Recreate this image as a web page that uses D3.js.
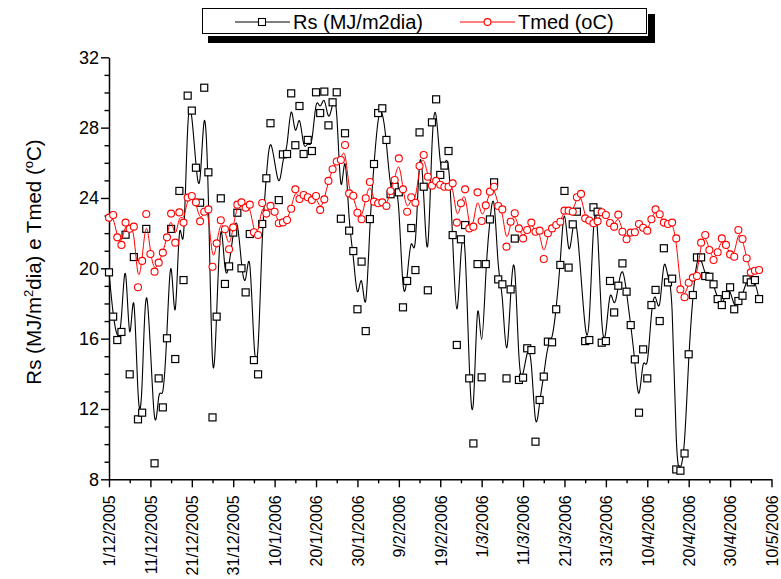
<!DOCTYPE html>
<html><head><meta charset="utf-8">
<script src="https://cdn.jsdelivr.net/npm/d3@7"></script>
<style>
body{margin:0;background:#fff}
text{font-family:"Liberation Sans",Arial,sans-serif}
</style>
</head><body>
<svg id="c" width="781" height="579"></svg>
<script>
// ---- data ----
const startDate = "2005-12-01";
const endDate = "2006-05-10";
const tickDates = ["2005-12-01","2005-12-11","2005-12-21","2005-12-31","2006-01-10","2006-01-20","2006-01-30","2006-02-09","2006-02-19","2006-03-01","2006-03-11","2006-03-21","2006-03-31","2006-04-10","2006-04-20","2006-04-30","2006-05-10"];
const yTicks = [8,12,16,20,24,28,32];
const seriesNames = ["Rs (MJ/m2dia)", "Tmed (oC)"];
// daily values from 1/12/2005 (null = no observation)
const rs = [19.77,17.25,15.92,16.38,21.91,13.97,20.64,11.41,11.79,22.24,
 null,8.91,13.74,12.09,16.02,22.24,14.84,24.40,19.33,29.82,
 28.97,25.72,23.73,30.27,25.46,11.52,17.25,23.98,19.11,20.11,
 22.03,23.16,20.00,18.63,21.95,14.78,13.97,22.52,25.12,28.25,
 null,23.88,26.48,26.50,29.95,27.00,29.23,26.50,27.30,26.67,
 30.01,28.83,30.05,28.13,29.44,30.01,22.82,27.68,22.14,20.98,
 17.67,20.38,16.43,22.80,25.93,28.83,29.10,27.30,24.21,24.64,
 24.32,17.78,19.28,22.29,19.90,27.73,24.64,18.75,28.30,29.61,
 25.31,25.84,26.67,21.89,15.64,21.65,22.46,13.74,10.04,20.24,
 13.80,20.24,22.78,24.89,19.37,19.09,13.74,18.80,21.69,13.65,
 13.78,15.45,15.35,10.14,12.51,13.84,15.83,15.79,17.67,20.19,
 24.40,20.04,22.50,23.22,null,15.86,15.92,23.47,23.22,15.77,
 15.86,19.28,17.49,19.01,20.28,18.67,16.77,14.82,11.79,15.39,
 13.74,17.91,18.77,17.00,21.14,19.20,19.41,8.56,8.49,9.47,
 15.11,18.48,20.62,20.62,19.56,19.52,19.09,18.25,17.91,18.48,
 18.92,17.67,18.14,18.44,19.37,19.20,19.33,18.25];
const tmed = [22.88,23.03,21.76,21.33,22.60,22.25,22.37,18.92,20.42,23.09,
 20.81,19.81,20.32,20.89,21.76,23.11,21.46,23.18,22.60,24.02,
 24.11,23.75,22.67,23.22,23.35,20.09,21.42,22.73,22.22,21.08,
 22.33,23.62,23.75,23.45,23.62,22.05,21.89,23.71,23.11,23.55,
 23.22,22.56,22.61,22.75,23.39,24.49,23.94,24.17,24.04,23.88,
 24.11,23.32,23.92,24.97,25.63,26.07,26.16,27.01,24.26,24.13,
 23.16,22.79,23.98,24.91,23.79,23.70,23.75,23.54,24.40,25.02,
 26.25,24.49,23.22,24.04,23.73,25.82,26.44,25.21,24.70,24.97,
 24.75,24.64,24.64,24.83,22.60,23.70,24.49,22.27,22.37,24.32,
 22.69,23.58,24.36,24.64,23.54,23.35,21.23,22.65,23.13,22.27,
 21.70,22.18,22.60,22.08,22.14,20.53,21.99,22.27,22.46,22.65,
 23.28,23.28,23.22,24.04,24.23,22.84,22.72,22.56,22.67,23.19,
 23.03,22.58,22.37,23.05,22.08,21.65,22.03,22.05,22.52,22.31,
 22.14,22.79,23.35,23.07,22.60,22.52,22.60,21.70,18.80,18.35,
 19.18,19.47,19.56,21.46,21.89,21.04,20.47,20.91,21.70,21.33,
 20.79,20.66,22.18,21.67,20.57,19.77,19.86,19.90];

// ---- chart ----
const parse = d3.utcParse("%Y-%m-%d");
const fmt = d3.utcFormat("%-d/%-m/%Y");
const t0 = parse(startDate), t1 = parse(endDate);
const svg = d3.select("#c");
const x = d3.scaleUtc().domain([t0, t1]).range([109, 771.5]);
const y = d3.scaleLinear().domain([8, 32]).range([479.3, 57.3]);

const majors = tickDates.map(parse);
const minors = majors.slice(0, -1).map(d => d3.utcDay.offset(d, 5));

// minor x ticks
svg.append("g").attr("transform", "translate(0,479.3)")
  .call(d3.axisBottom(x).tickValues(minors).tickSize(4).tickSizeOuter(0).tickFormat(""))
  .call(g => g.select(".domain").remove())
  .call(g => g.selectAll("line").attr("stroke-width", 1.4));
// major x ticks + labels
const xa = svg.append("g").attr("transform", "translate(0,479.3)")
  .call(d3.axisBottom(x).tickValues(majors).tickSize(8).tickSizeOuter(0).tickFormat(fmt));
xa.select(".domain").attr("stroke-width", 1.5);
xa.selectAll("line").attr("stroke-width", 1.4);
xa.selectAll("text")
  .attr("transform", "rotate(-90)")
  .attr("x", -16).attr("y", 0).attr("dy", "0.36em")
  .attr("text-anchor", "end")
  .attr("font-size", 16).attr("font-family", "Liberation Sans, Arial, sans-serif");

// y axis
const minorY = d3.range(8, 33, 1).filter(v => v % 4 !== 0);
svg.append("g").attr("transform", "translate(109,0)")
  .call(d3.axisLeft(y).tickValues(minorY).tickSize(4.5).tickSizeOuter(0).tickFormat(""))
  .call(g => g.select(".domain").remove())
  .call(g => g.selectAll("line").attr("stroke-width", 1.4));
const ya = svg.append("g").attr("transform", "translate(109,0)")
  .call(d3.axisLeft(y).tickValues(yTicks).tickSize(8).tickPadding(2).tickSizeOuter(0));
ya.select(".domain").attr("stroke-width", 1.5);
ya.selectAll("line").attr("stroke-width", 1.4);
ya.selectAll("text").attr("font-size", 18).attr("font-family", "Liberation Sans, Arial, sans-serif");

// y title
const yt = svg.append("text")
  .attr("transform", "translate(41,262) rotate(-90)")
  .attr("text-anchor", "middle").attr("font-size", 20.5);
yt.append("tspan").text("Rs (MJ/m");
yt.append("tspan").attr("font-size", 13).attr("dy", -8).text("2");
yt.append("tspan").attr("dy", 8).text("dia) e Tmed (");
yt.append("tspan").attr("font-size", 13).attr("dy", -8).text("o");
yt.append("tspan").attr("dy", 8).text("C)");

// series
const rsPts = rs.map((v, i) => ({d: d3.utcDay.offset(t0, i), v})).filter(p => p.v !== null);
const tmPts = tmed.map((v, i) => ({d: d3.utcDay.offset(t0, i), v}));
const line = d3.line().x(p => x(p.d)).y(p => y(p.v)).curve(d3.curveBasis);

svg.append("path").datum(rsPts).attr("d", line)
  .attr("fill", "none").attr("stroke", "#000").attr("stroke-width", 1.1);
svg.append("g").selectAll("rect").data(rsPts).join("rect")
  .attr("x", p => x(p.d) - 3.5).attr("y", p => y(p.v) - 3.5)
  .attr("width", 7).attr("height", 7)
  .attr("fill", "#fff").attr("stroke", "#000").attr("stroke-width", 1.2);

svg.append("path").datum(tmPts).attr("d", line)
  .attr("fill", "none").attr("stroke", "#ff0000").attr("stroke-width", 1);
svg.append("g").selectAll("circle").data(tmPts).join("circle")
  .attr("cx", p => x(p.d)).attr("cy", p => y(p.v)).attr("r", 3.5)
  .attr("fill", "#fff").attr("stroke", "#ff0000").attr("stroke-width", 1.1);

// legend
const lg = svg.append("g");
lg.append("rect").attr("x", 208).attr("y", 36).attr("width", 447).attr("height", 7).attr("fill", "#000");
lg.append("rect").attr("x", 648).attr("y", 14).attr("width", 7).attr("height", 29).attr("fill", "#000");
lg.append("rect").attr("x", 202.5).attr("y", 8.5).attr("width", 444).attr("height", 25)
  .attr("fill", "#fff").attr("stroke", "#000").attr("stroke-width", 1);
lg.append("line").attr("x1", 235).attr("x2", 290).attr("y1", 22).attr("y2", 22).attr("stroke", "#000").attr("stroke-width", 1);
lg.append("rect").attr("x", 258.5).attr("y", 18.5).attr("width", 7).attr("height", 7)
  .attr("fill", "#fff").attr("stroke", "#000").attr("stroke-width", 1.1);
lg.append("text").attr("x", 293).attr("y", 29).attr("font-size", 20).text(seriesNames[0]);
lg.append("line").attr("x1", 460).attr("x2", 515).attr("y1", 22).attr("y2", 22).attr("stroke", "#ff0000").attr("stroke-width", 1);
lg.append("circle").attr("cx", 487.5).attr("cy", 22).attr("r", 3.4)
  .attr("fill", "#fff").attr("stroke", "#ff0000").attr("stroke-width", 1.1);
lg.append("text").attr("x", 518).attr("y", 29).attr("font-size", 20).text(seriesNames[1]);
</script>
</body></html>
